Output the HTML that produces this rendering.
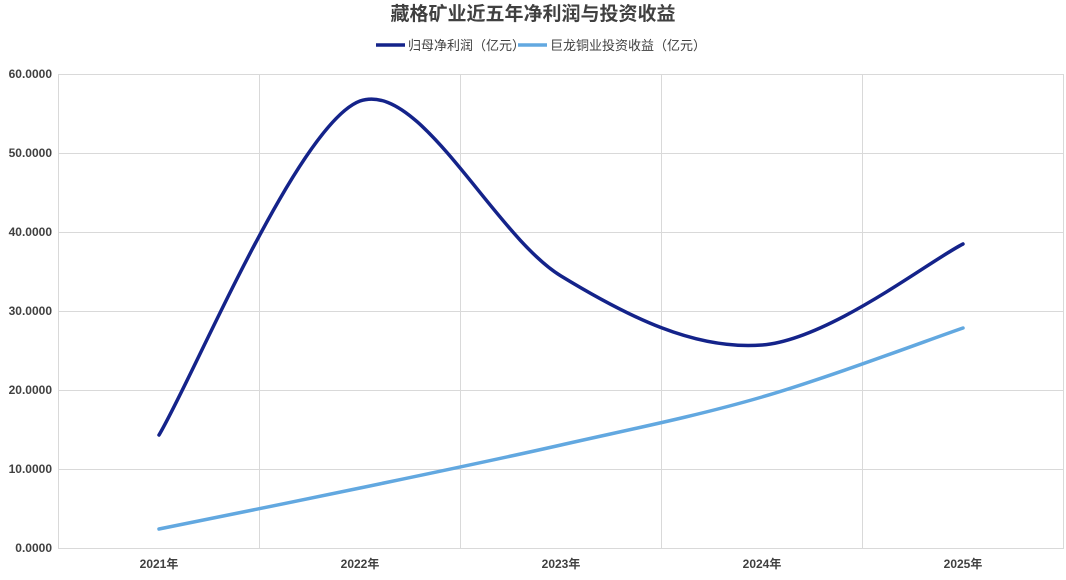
<!DOCTYPE html>
<html><head><meta charset="utf-8"><style>
body{margin:0;background:#fff;}
svg{display:block;font-family:"Liberation Sans","Noto Sans CJK SC",sans-serif;}
</style></head><body>
<svg width="1066" height="580" viewBox="0 0 1066 580">
<text x="533" y="20" text-anchor="middle" font-size="19" font-weight="bold" fill="#404040">藏格矿业近五年净利润与投资收益</text>
<line x1="376" y1="45" x2="405" y2="45" stroke="#14238a" stroke-width="3.5"/>
<text x="408" y="50" font-size="13" fill="#404040">归母净利润（亿元）</text>
<line x1="518" y1="45" x2="547" y2="45" stroke="#62a8e0" stroke-width="3.5"/>
<text x="550" y="50" font-size="13" fill="#404040">巨龙铜业投资收益（亿元）</text>
<g stroke="#d9d9d9" stroke-width="1">
<line x1="58" y1="74.5" x2="1064" y2="74.5"/>
<line x1="58" y1="153.5" x2="1064" y2="153.5"/>
<line x1="58" y1="232.5" x2="1064" y2="232.5"/>
<line x1="58" y1="311.5" x2="1064" y2="311.5"/>
<line x1="58" y1="390.5" x2="1064" y2="390.5"/>
<line x1="58" y1="469.5" x2="1064" y2="469.5"/>
<line x1="58" y1="548.5" x2="1064" y2="548.5"/>
<line x1="58.5" y1="74" x2="58.5" y2="548"/>
<line x1="259.5" y1="74" x2="259.5" y2="548"/>
<line x1="460.5" y1="74" x2="460.5" y2="548"/>
<line x1="661.5" y1="74" x2="661.5" y2="548"/>
<line x1="862.5" y1="74" x2="862.5" y2="548"/>
<line x1="1063.5" y1="74" x2="1063.5" y2="548"/>
</g>
<g font-size="12" font-weight="bold" fill="#404040" text-anchor="end">
<text x="52" y="78">60.0000</text>
<text x="52" y="157">50.0000</text>
<text x="52" y="236">40.0000</text>
<text x="52" y="315">30.0000</text>
<text x="52" y="394">20.0000</text>
<text x="52" y="473">10.0000</text>
<text x="52" y="552">0.0000</text>
</g>
<g font-size="12" font-weight="bold" fill="#404040" text-anchor="middle">
<text x="159" y="568">2021年</text>
<text x="360" y="568">2022年</text>
<text x="561" y="568">2023年</text>
<text x="762" y="568">2024年</text>
<text x="963" y="568">2025年</text>
</g>
<path d="M159,435 C192.5,379.2 298,124 360,101 C420,80 494,235.2 561,276 C628,316.8 695,350.3 762,345 C829,339.7 929.5,260.8 963,244" fill="none" stroke="#14238a" stroke-width="3.5" stroke-linecap="round"/>
<path d="M159,529 C192.5,522.2 293,502 360,488 C427,474 494,460.2 561,445 C628,429.8 695,416.5 762,397 C829,377.5 929.5,339.5 963,328" fill="none" stroke="#62a8e0" stroke-width="3.5" stroke-linecap="round"/>
</svg>
</body></html>
